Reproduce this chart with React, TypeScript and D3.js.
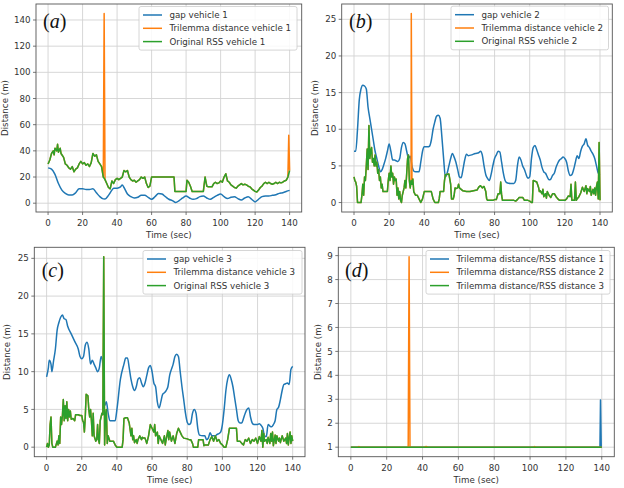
import React from 'react';
import * as d3 from 'd3';

type P = [number, number];

const W = 624;
const H = 488;
const COLORS = ['#1f77b4', '#ff7f0e', '#2ca02c'];
const TIME_TICKS = [0, 20, 40, 60, 80, 100, 120, 140];
const Y_TICKS_A = [0, 20, 40, 60, 80, 100, 120, 140];
const Y_TICKS_B = [0, 5, 10, 15, 20, 25];
const Y_TICKS_C = [0, 5, 10, 15, 20, 25];
const Y_TICKS_D = [1, 2, 3, 4, 5, 6, 7, 8, 9];
const X_LABEL = 'Time (sec)';
const Y_LABEL = 'Distance (m)';

const LEGEND_A = ['gap vehicle 1', 'Trilemma distance vehicle 1', 'Original RSS vehicle 1'];
const LEGEND_B = ['gap vehicle 2', 'Trilemma distance vehicle 2', 'Original RSS vehicle 2'];
const LEGEND_C = ['gap vehicle 3', 'Trilemma distance vehicle 3', 'Original RSS vehicle 3'];
const LEGEND_D = ['Trilemma distance/RSS distance 1', 'Trilemma distance/RSS distance 2', 'Trilemma distance/RSS distance 3'];

// ---- panel (a) vehicle 1 ----
const gap1: P[] = [[0,27],[2,26],[4,22],[6,15],[8,10],[10,7.5],[12,6.3],[14,6.3],[16,8],[18,11],[20,11],[22,10.5],[24,10.5],[26,11],[28,8],[30,5],[32,3.3],[33,3.2],[35,6],[37,10],[38,11.5],[40,11.5],[42,12.5],[43,14],[44,12],[46,7],[48,5],[50,4],[52,4.5],[54,6],[56,6],[58,4.5],[60,3],[62,5],[64,7.5],[66,7],[68,5],[70,3],[72,2],[74,0.5],[76,2],[78,4],[80,5.5],[82,4],[84,3],[86,3.5],[88,5],[90,5.5],[92,4],[94,3],[96,4.5],[98,6],[100,7],[102,5],[104,3.5],[106,4.5],[108,5],[110,3.5],[112,2.5],[114,4],[116,5],[118,3],[120,1],[122,3],[124,5],[126,5.5],[128,5.5],[130,6],[132,6.5],[134,7.5],[136,8],[138,9],[140,9.8]];
const rss1: P[] = [[0,30],[1,33],[2,38],[3,40],[3.5,37],[4,42],[5,40],[5.5,45],[6,39],[7,42],[7.5,38],[8,37],[9,35],[10,30],[11,29],[12,27],[13,26],[14,28],[15,24],[16,26],[17,27],[18,30],[19,32],[20,30],[21,31],[22,29],[23,30],[24,28],[25,31],[26,38],[27,36],[28,37],[29,32],[30,30],[31,28],[32,20],[33,18],[34,15],[35,12],[36,11],[37,17],[38,15],[39,18],[40,19],[41,18],[42,19],[43,20],[44,25],[45,24],[46,25],[47,20],[48,18],[49,17],[50,17.5],[51,16],[52,17],[53,18],[54,20],[55,19],[56,20],[57,15],[58,12],[59,13],[60,20],[73,20],[73.5,9],[80,9],[80.5,17.5],[81.5,16],[82.5,13],[83.5,9],[90,9],[91,20],[92,13],[93,12.5],[95,12.5],[96,15],[97,16],[98,15],[99,15.5],[100,17],[101,16],[102,20],[103,22.5],[104,17],[105,16],[106,14],[107,13],[108,12],[109,11.5],[110,13],[111,14],[112,15],[113,14],[114,14.5],[115,14],[116,13],[117,12.5],[118,11],[119,10],[120,9],[121,8.5],[122,10],[123,12],[124,13],[125,15],[126,16],[127,15],[128,16],[129,15],[130,14.5],[131,15],[132,16],[133,15],[134,16],[135,15.5],[136,16],[137,17],[138,17.5],[139,20],[140,25]];
const trilemmaSpikes1: P[] = [[32.5,145],[139.5,52]];

// ---- panel (b) vehicle 2 ----
const gap2: P[] = [[0,7],[1,7],[2,10],[3,14],[4,15.5],[5,16],[6,15.9],[7,15.5],[8,13],[9,11.5],[10,10],[11,8.5],[12,7],[13,6],[14,5],[15,4.2],[16,4.5],[17,5.2],[18,6],[19,7],[20,8],[21,7],[22,5.8],[23,5.8],[24,5.7],[25,5.6],[26,6],[27,7.5],[28,8.2],[29,8],[30,7],[31,6],[32,6.3],[33,5],[34,4.3],[35,4.2],[37,4.2],[38,5.5],[39,7],[40,7.6],[42,7.6],[43,7.7],[44,8.5],[45,10],[46,11],[47,11.8],[48,11.9],[49,11.5],[50,9],[51,6],[52,3.5],[53,4],[54,5],[55,6],[56,6.7],[57,6.2],[58,5.5],[59,4.5],[60,3.5],[61,3.4],[62,4.5],[63,5.8],[64,6.6],[65,6.4],[67,6.5],[69,6.7],[71,6.8],[72,7],[73,6.5],[74,5],[75,3.8],[76,3.3],[77,3],[78,3.8],[79,5],[80,6],[81,6.5],[82,7],[83,6.9],[84,5.5],[85,4],[86,3],[87,2.7],[89,2.6],[91,2.6],[92,3],[93,5],[94,6.2],[95,5.8],[96,5],[97,4.5],[98,3.8],[99,3.3],[100,3.5],[101,6],[102,7.5],[103,7.8],[104,7.2],[105,6.5],[106,5.8],[107,4.8],[108,4.2],[109,4],[110,3.5],[111,3.1],[112,3.2],[113,3.7],[114,4],[115,4.8],[116,5.4],[117,5.8],[118,6],[119,6.2],[120,6],[121,5.5],[122,4.3],[123,3.7],[124,3.8],[125,4.5],[126,5.5],[127,6.4],[128,6],[129,7],[130,7.7],[131,8],[132,8.7],[133,7.8],[134,7.5],[135,7],[136,6.6],[137,6],[138,5],[139,4],[140,3.8]];
const rss2: P[] = [[0,3.5],[0.5,3],[1,2.8],[1.5,2.2],[2,0],[4,0],[4.5,1],[5,2.5],[5.5,1],[6,3.5],[6.5,3],[7,5],[7.5,7.3],[8,4.5],[8.5,10.5],[9,6],[9.5,7],[10,7.5],[10.5,5.5],[11,6],[11.5,5],[12,6.5],[12.5,5],[13,5.5],[13.5,4],[14,4.5],[14.5,3],[15,3.5],[15.5,2],[16,2.5],[16.5,1.5],[17,1.5],[19,1.5],[19.5,3],[20,4],[20.5,3],[21,5],[21.5,3.5],[22,4],[22.5,2.5],[23,3.5],[23.5,3],[24,3.2],[24.5,1],[25,2],[25.5,0.5],[26,1.5],[26.5,0.3],[27,0],[27.5,1],[28,1.5],[28.5,2],[29,3],[29.5,2],[30,4],[30.5,6],[31,6.5],[31.5,3],[32,2],[32.5,3],[33,2.5],[33.5,3.2],[34,1.5],[35,1],[36,1],[37,0.5],[38,0],[39,0.5],[40,1.5],[44,1.5],[45,0.5],[46,0],[48,0],[48.5,0.5],[49,1.5],[51,1.5],[51.5,3],[52,3.8],[54,3.9],[55,2.5],[55.5,0.5],[56.5,0.5],[57,1],[57.5,2],[58,1.9],[59,2],[59.5,2.5],[60,2],[61,1.8],[62,1.6],[64,1.5],[66,1.5],[68,1.6],[70,1.7],[71,2.1],[72,2.3],[73,2],[74,2.2],[75,1.5],[75.5,0.5],[76,0.3],[79,0.3],[80,0.4],[81,0.4],[82,1.2],[83,1.2],[83.5,2.8],[84,1],[84.5,0.3],[91,0.3],[92,0.2],[93,0.4],[94,0.7],[96,0.7],[97,0.3],[99,0.3],[100,0.2],[101,0],[101.5,0],[102,3],[103,2.9],[104,2.8],[105,2.1],[105.5,1.5],[106,1.6],[107,1.2],[107.5,1.8],[108,0.8],[109,1.2],[109.5,0.6],[110,1.5],[111,1],[112,0.7],[113,1.2],[114,1.2],[115,0.8],[116,0.5],[117,0.3],[120,0.3],[121,0.5],[122,0.9],[123,0.8],[123.5,2.5],[124,0.3],[125.5,0.3],[126,2.8],[126.5,0.3],[127,0.5],[128,0.8],[129,1.3],[130,2.1],[131,1.5],[132,2.3],[132.5,1.2],[133,1.9],[134,1.5],[134.5,2.2],[135,1],[136,1.8],[136.5,1.2],[137,2],[137.5,1],[138,2.2],[138.5,2.8],[139,0.5],[139.5,8.2],[140,0.3]];
const trilemmaSpikes2: P[] = [[32.6,25.8]];

// ---- panel (c) vehicle 3 ----
const gap3: P[] = [[0,9.3],[1,10.5],[1.5,11.5],[2.5,11],[3,10],[4,11.5],[5,13],[6,15.5],[7,16.5],[8,17.2],[9,17.5],[10,17],[11,16.9],[12,16],[14,15],[16,14],[18,13],[19,12],[20,11.7],[21,12],[22,13.5],[23,13.9],[24,13],[25,11],[26,11.5],[27,11],[28,10.5],[29,10],[30,10.5],[31,12],[32,11],[33,5.5],[34,6],[35,4.5],[36,3.5],[39,3.5],[40,5],[42,9],[44,11],[45,11.8],[46,11.8],[47,10.5],[48,9],[49,8],[50,7.5],[51,8],[52,9],[53,9.2],[54,8.5],[55,8],[56,8.5],[57,9.5],[58,10.5],[59,10.8],[60,10],[61,8.5],[62,8],[63,6],[64,5.2],[65,6],[66,7],[67,7.2],[68,7.5],[69,8],[70,9.5],[71,10.3],[72,11],[73,12],[74,12.3],[75,12],[76,10],[77,8],[78,6.3],[79,4.5],[80,3.3],[81,3],[82,3.2],[83,4.5],[84,5],[85,4.5],[86,2.5],[87,1.6],[89,1.5],[90,1.5],[91,1],[92,1.2],[93,1.9],[94,1.5],[96,1.5],[97,1.7],[98,1.8],[99,2],[100,3],[101,5],[102,7.5],[103,9],[104,9.6],[105,9],[106,8],[107,6.5],[108,5],[109,3.5],[110,3.2],[111,3.2],[112,3.8],[113,4.5],[114,5],[115,5.2],[116,4],[117,3.2],[118,3],[120,3],[121,3.1],[122,2.9],[123,2.5],[124,1.5],[125,1.4],[126,3],[127,2.8],[128,2.7],[129,3],[130,3.5],[131,5],[132,5.3],[133,6.3],[134,7.5],[135,8.3],[136,8.4],[137,8.5],[138,8.3],[139,10.3],[140,10.7]];
const rss3: P[] = [[0,0],[0.5,0.5],[1,0],[1.5,0.3],[2,3],[2.5,4],[3,0.5],[3.5,0],[5,0],[6,0.8],[6.5,0.3],[7,1.5],[7.5,0.5],[8,4],[8.5,3],[9,4.2],[9.5,6.3],[10,3.5],[10.5,5.5],[11,3.8],[11.5,6],[12,3.5],[12.5,5],[13,4],[13.5,4.8],[14,3.7],[15,3.8],[16,3.5],[16.5,4.3],[18,4.3],[19,4.2],[20,4.2],[20.5,3.5],[21,3.3],[21.5,2],[22,4],[22.5,7],[23.5,6.8],[24,5],[24.5,4],[25,5],[25.5,3.5],[26,1.5],[26.5,4.5],[27,1.5],[28,0.8],[28.5,1],[29,3],[29.5,1],[30,0.5],[30.5,3.5],[31,4],[31.5,4.5],[32,4.3],[32.5,25.2],[33,0.3],[33.5,4],[34,5],[34.5,0.5],[35,1.5],[36,0.8],[37,0.8],[38,0.8],[39,0.3],[40,0],[43,0],[43.5,1],[44,3.8],[45,3.9],[46,3.9],[47,3.2],[48,1.5],[48.5,2.5],[49,1],[49.5,1.5],[50,0.6],[51,1],[51.5,0.5],[52,1],[53,1.5],[54,1],[54.5,1.3],[55,1.2],[56,1.2],[57,0.5],[58,1.5],[59,3],[60,2.5],[61,2],[61.5,3],[62,1.5],[63,2],[63.5,0.5],[64,1.5],[65,1],[66,0.5],[67,1.5],[67.5,0.3],[68,1],[69,2.2],[69.5,1],[70,2],[71,0.8],[72,1.5],[73,0.5],[74,1.8],[75,2.5],[76,2],[77,1.5],[78,1.2],[80,1.1],[81,1],[82,1],[83,0.5],[83.5,0],[86,0],[86.5,1],[88,1],[89,1],[89.5,0.2],[90,0.3],[92,0.3],[93,1],[94,1.4],[95,0.8],[96,1.5],[97,0.8],[98,1],[99,0.5],[100,0.3],[101,0],[102,0],[103,1],[104,2.5],[108,2.5],[108.5,0.8],[110,0.8],[111,0.5],[112,0.3],[113,1],[114,0.8],[115,1.2],[116,0.5],[117,1],[118,0.8],[119,1.2],[120,0.5],[121,1.4],[122,0.8],[122.5,2.2],[123,0],[123.5,1.8],[124,0.8],[125,1],[125.5,0.5],[126,1.3],[127,0.5],[127.5,1.8],[128,0.8],[128.5,2],[129,0.2],[130,1.6],[130.5,0.5],[131,1.5],[132,0.8],[132.5,1.2],[133,0.6],[134,1.5],[135,0.8],[136,1.2],[136.5,0.5],[137,1.8],[137.5,0.3],[138,1.2],[138.5,2],[139,0.5],[139.5,1.5],[140,0.8]];
const trilemmaSpikes3: P[] = [];

// ---- panel (d) ratios ----
const ratio1: P[] = [[0,1],[139,1],[139.3,2.97],[139.7,1],[140,1]];
const ratio2: P[] = [[0,1],[4,1],[4.5,1.03],[5,1],[32,1],[32.5,8.95],[33,1],[41,1],[42,1.03],[43,1],[102,1],[102.5,1.03],[103,1],[140,1]];
const ratio3: P[] = [[0,1],[140,1]];

function withSpikes(base: P[], spikes: P[]): P[] {
  return [...base, ...spikes].sort((a, b) => a[0] - b[0]);
}

function padDomain(series: P[][], idx: 0 | 1): [number, number] {
  const vals = series.flat().map(p => p[idx]);
  const lo = d3.min(vals) as number;
  const hi = d3.max(vals) as number;
  const m = (hi - lo) * 0.05;
  return [lo - m, hi + m];
}

type Layout = { l: number; r: number; t: number; b: number; legX: number; legW: number; legRow0: number; labX: number; labY: number; ylabX: number };

const PANELS: { name: string; series: P[][]; smooth: boolean[]; yTicks: number[]; legend: string[]; lay: Layout }[] = [
  { name: 'a', series: [gap1, withSpikes(rss1, trilemmaSpikes1), rss1], smooth: [true, false, false], yTicks: Y_TICKS_A, legend: LEGEND_A,
    lay: { l: 36, r: 301.7, t: 4, b: 212, legX: 139, legW: 158, legRow0: 15, labX: 43, labY: 28.3, ylabX: 5 } },
  { name: 'b', series: [gap2, withSpikes(rss2, trilemmaSpikes2), rss2], smooth: [true, false, false], yTicks: Y_TICKS_B, legend: LEGEND_B,
    lay: { l: 341.7, r: 612.3, t: 4, b: 212, legX: 451, legW: 157.5, legRow0: 14.7, labX: 349, labY: 28, ylabX: 315 } },
  { name: 'c', series: [gap3, withSpikes(rss3, trilemmaSpikes3), rss3], smooth: [true, false, false], yTicks: Y_TICKS_C, legend: LEGEND_C,
    lay: { l: 34.3, r: 305, t: 247.3, b: 456.7, legX: 143, legW: 159, legRow0: 259, labX: 41.7, labY: 276.7, ylabX: 7.3 } },
  { name: 'd', series: [ratio1, ratio2, ratio3], smooth: [false, false, false], yTicks: Y_TICKS_D, legend: LEGEND_D,
    lay: { l: 338.3, r: 614.3, t: 247.3, b: 456.7, legX: 426, legW: 184, legRow0: 259, labX: 345, labY: 276.7, ylabX: 318.3 } },
];

const FONT = 'DejaVu Sans, sans-serif';
const FS = 8.7;
const TEXT_COLOR = '#333';

function Panel({ p }: { p: typeof PANELS[number] }) {
  const { lay } = p;
  const x = d3.scaleLinear().domain(padDomain(p.series, 0)).range([lay.l, lay.r]);
  const y = d3.scaleLinear().domain(padDomain(p.series, 1)).range([lay.b, lay.t]);
  const rowH = 13.3;
  return (
    <g>
      {TIME_TICKS.map(t => (
        <line key={'gx' + t} x1={x(t)} x2={x(t)} y1={lay.t} y2={lay.b} stroke="#d3d3d3" strokeWidth={0.9} />
      ))}
      {p.yTicks.map(t => (
        <line key={'gy' + t} x1={lay.l} x2={lay.r} y1={y(t)} y2={y(t)} stroke="#d3d3d3" strokeWidth={0.9} />
      ))}
      {p.series.map((s, i) => {
        const line = d3.line<P>().x(d => x(d[0])).y(d => y(d[1]));
        if (p.smooth[i]) line.curve(d3.curveMonotoneX);
        return <path key={'s' + i} d={line(s) || ''} fill="none" stroke={COLORS[i]} strokeWidth={1.5} strokeLinejoin="round" />;
      })}
      <rect x={lay.l} y={lay.t} width={lay.r - lay.l} height={lay.b - lay.t} fill="none" stroke="#555" strokeWidth={0.9} />
      {TIME_TICKS.map(t => (
        <g key={'tx' + t}>
          <line x1={x(t)} x2={x(t)} y1={lay.b} y2={lay.b + 3} stroke="#555" strokeWidth={0.8} />
          <text x={x(t)} y={lay.b + 13.8} textAnchor="middle" fontFamily={FONT} fontSize={FS} fill={TEXT_COLOR}>{t}</text>
        </g>
      ))}
      {p.yTicks.map(t => (
        <g key={'ty' + t}>
          <line x1={lay.l - 3} x2={lay.l} y1={y(t)} y2={y(t)} stroke="#555" strokeWidth={0.8} />
          <text x={lay.l - 5.5} y={y(t) + 3.1} textAnchor="end" fontFamily={FONT} fontSize={FS} fill={TEXT_COLOR}>{t}</text>
        </g>
      ))}
      <text x={(lay.l + lay.r) / 2} y={lay.b + 25.8} textAnchor="middle" fontFamily={FONT} fontSize={FS} fill={TEXT_COLOR}>{X_LABEL}</text>
      <text transform={`translate(${lay.ylabX + 3},${(lay.t + lay.b) / 2}) rotate(-90)`} textAnchor="middle" fontFamily={FONT} fontSize={FS} fill={TEXT_COLOR}>{Y_LABEL}</text>
      <rect x={lay.legX} y={lay.legRow0 - 8.5} width={lay.legW} height={rowH * 2 + 17} rx={2} fill="white" fillOpacity={0.85} stroke="#cccccc" strokeWidth={0.8} />
      {p.legend.map((s, i) => (
        <g key={'lg' + i}>
          <line x1={lay.legX + 4} x2={lay.legX + 23} y1={lay.legRow0 + i * rowH} y2={lay.legRow0 + i * rowH} stroke={COLORS[i]} strokeWidth={1.5} />
          <text x={lay.legX + 30.5} y={lay.legRow0 + i * rowH + 3.1} fontFamily={FONT} fontSize={FS} fill={TEXT_COLOR}>{s}</text>
        </g>
      ))}
      <text x={lay.labX} y={lay.labY} fontFamily="Liberation Serif, serif" fontSize={20} fill="#111">
        (<tspan fontStyle="italic">{p.name}</tspan>)
      </text>
    </g>
  );
}

export default function App() {
  return (
    <svg width={W} height={H} style={{ position: 'absolute', left: 0, top: 0, background: 'white' }}>
      <rect width={W} height={H} fill="white" />
      {PANELS.map(p => <Panel key={p.name} p={p} />)}
    </svg>
  );
}
